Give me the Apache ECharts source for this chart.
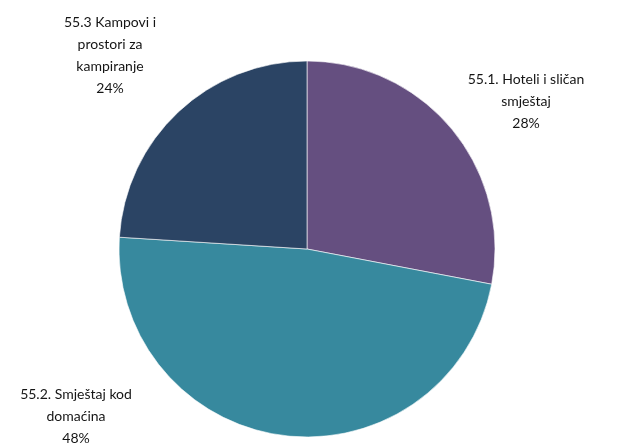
<!DOCTYPE html>
<html>
<head>
<meta charset="utf-8">
<script src="https://cdn.jsdelivr.net/npm/echarts@6/dist/echarts.min.js"></script>
<style>
  html, body { margin: 0; padding: 0; background: #fff; }
  #chart { width: 624px; height: 448px; }
</style>
</head>
<body>
<div id="chart"></div>
<script>
// categories and shares (%)
var categories = ['55.1. Hoteli i sličan\nsmještaj', '55.2. Smještaj kod\ndomaćina', '55.3 Kampovi i\nprostori za\nkampiranje']
var values = [28, 48, 24]
var colors = ['#654f80', '#37899e', '#2b4464']

// where each label sits (centre of the text block)
var labelPos = [
  { x: 526, y: 101 },
  { x: 76, y: 416 },
  { x: 110, y: 55 }
]

var chart = echarts.init(document.getElementById('chart'))

var option = {
  backgroundColor: '#ffffff',
  animation: false,
  series: [{
    type: 'pie',
    center: [307, 249],
    radius: [0, 188],
    startAngle: 90,
    clockwise: true,
    data: categories.map(function (name, i) {
      return { name: name, value: values[i], itemStyle: { color: colors[i] } }
    }),
    itemStyle: {
      borderColor: 'rgba(255,255,255,0.6)',
      borderWidth: 1
    },
    label: {
      show: true,
      position: 'outside',
      alignTo: 'none',
      overflow: 'none',
      width: 200,
      formatter: function (p) {
        return p.name + '\n' + p.value + '%'
      },
      fontFamily: 'Lato',
      fontSize: 14,
      lineHeight: 22,
      color: '#151515',
      align: 'center'
    },
    labelLine: { show: false },
    labelLayout: function (params) {
      var pos = labelPos[params.dataIndex]
      return {
        x: pos.x,
        y: pos.y,
        align: 'center',
        verticalAlign: 'middle',
        hideOverlap: false
      }
    },
    emphasis: { disabled: true }
  }]
}

chart.setOption(option)
</script>
</body>
</html>
